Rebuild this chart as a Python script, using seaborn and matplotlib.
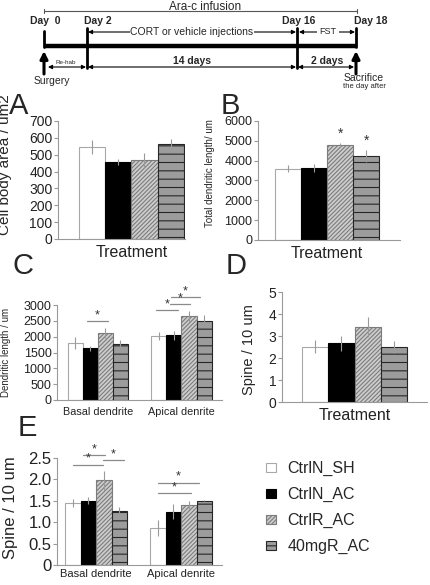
import numpy as np
import pandas as pd
import matplotlib
matplotlib.use('Agg')
import matplotlib.pyplot as plt
import seaborn as sns
from matplotlib.patches import Patch
from matplotlib.container import BarContainer

# Groups and categories
groups = ['CtrlN_SH', 'CtrlN_AC', 'CtrlR_AC', '40mgR_AC']
dendrites = ['Basal dendrite', 'Apical denrite']

# A: cell body area (um2)
cell_area = [548, 455, 468, 562]
cell_area_sem = [42, 18, 45, 30]

# B: total dendritic length (um)
total_len = [3600, 3650, 4780, 4250]
total_len_sem = [170, 200, 110, 300]

# C: dendritic length per dendrite type (um)
dend_len_basal = [1800, 1630, 2110, 1770]
dend_len_basal_sem = [200, 90, 150, 110]
dend_len_apical = [2030, 2040, 2640, 2480]
dend_len_apical_sem = [130, 130, 170, 190]

# D: spines / 10 um, all
spine_total = [2.52, 2.67, 3.42, 2.5]
spine_total_sem = [0.28, 0.35, 0.45, 0.27]

# E: spines / 10 um per dendrite type
spine_basal = [1.45, 1.5, 1.98, 1.27]
spine_basal_sem = [0.1, 0.08, 0.22, 0.08]
spine_apical = [0.86, 1.25, 1.4, 1.5]
spine_apical_sem = [0.18, 0.18, 0.09, 0.01]

sns.set_style('white')
plt.rcParams['font.family'] = ['Liberation Sans', 'DejaVu Sans']
plt.rcParams['hatch.linewidth'] = 0.8

W, H = 430, 585
fig = plt.figure(figsize=(W / 100, H / 100), dpi=100)


def px_axes(l, t, r, b):
    return fig.add_axes([l / W, 1 - b / H, (r - l) / W, (b - t) / H])


def ftext(x, y, s, **kw):
    fig.text(x / W, 1 - y / H, s, **kw)


bar_styles = {
    'CtrlN_SH': dict(facecolor='white', edgecolor='#a8a8a8', hatch=None),
    'CtrlN_AC': dict(facecolor='black', edgecolor='black', hatch=None),
    'CtrlR_AC': dict(facecolor='#cdcdcd', edgecolor='#7c7c7c', hatch='////////'),
    '40mgR_AC': dict(facecolor='#9c9c9c', edgecolor='#262626', hatch='--'),
}
palette = {g: bar_styles[g]['facecolor'] for g in groups}


def long_df(cats, vals, sems):
    rows = []
    for c, v, s in zip(cats, vals, sems):
        for g, vv, ss in zip(groups, v, s):
            rows.append({'Cat': c, 'Group': g, 'Value': vv, 'SEM': ss})
    return pd.DataFrame(rows)


def bars_of(ax):
    return [c for c in ax.containers if isinstance(c, BarContainer)]


def bar_panel(ax, df, order, width, xlim, ylim, yticks, tick_fs, cat_fs, cat_pad, yticklabels=None):
    sns.barplot(data=df, x='Cat', y='Value', hue='Group', order=order, hue_order=groups,
                palette=palette, width=width, errorbar=None, legend=False, ax=ax, saturation=1)
    lookup = {(r.Cat, r.Group): r.SEM for r in df.itertuples()}
    for g, cont in zip(groups, bars_of(ax)):
        st = bar_styles[g]
        xs, ys, es = [], [], []
        for p in cont:
            p.set_facecolor(st['facecolor'])
            p.set_edgecolor(st['edgecolor'])
            p.set_linewidth(0.8)
            if st['hatch']:
                p.set_hatch(st['hatch'])
            xc = p.get_x() + p.get_width() / 2
            xs.append(xc)
            ys.append(p.get_height())
            es.append(lookup[(order[int(round(xc))], g)])
        ax.errorbar(xs, ys, yerr=es, fmt='none', ecolor='#9a9a9a', elinewidth=0.8, capsize=0, zorder=5)
    ax.set_xlim(*xlim)
    ax.set_ylim(*ylim)
    ax.set_yticks(yticks)
    if yticklabels is not None:
        ax.set_yticklabels(yticklabels)
    sns.despine(ax=ax)
    for s in ['left', 'bottom']:
        ax.spines[s].set_color('#9a9a9a')
        ax.spines[s].set_linewidth(0.8)
    ax.tick_params(axis='y', left=True, length=3, width=0.8, color='#9a9a9a',
                   labelsize=tick_fs, labelcolor='#222222', pad=1)
    ax.tick_params(axis='x', length=0, labelsize=cat_fs, labelcolor='#222222', pad=cat_pad)
    ax.set_xlabel('')
    ax.set_ylabel('')


def sig(ax, x0, x1, y, fs=9):
    ax.plot([x0, x1], [y, y], color='#8a8a8a', lw=0.9, clip_on=False)
    ax.text((x0 + x1) / 2, y, '*', ha='center', va='bottom', fontsize=fs,
            color='#333333', clip_on=False)


# ---------- timeline ----------
axt = fig.add_axes([0, 1 - 90 / H, 1, 90 / H])
axt.set_xlim(0, W)
axt.set_ylim(90, 0)
axt.axis('off')
axt.plot([44, 356], [46, 46], color='black', lw=3.2, solid_capstyle='butt')
axt.plot([44, 44], [31, 47], color='black', lw=2)
axt.plot([87, 87], [28, 68], color='black', lw=2)
axt.plot([297, 297], [28, 68], color='black', lw=2)
axt.plot([356, 356], [28, 47], color='black', lw=2)
axt.plot([44, 357], [11, 11], color='#555555', lw=0.8)
axt.plot([44, 44], [9, 13], color='#555555', lw=0.8)
axt.plot([357, 357], [9, 13], color='#555555', lw=0.8)
axt.text(205, 7, 'Ara-c infusion', ha='center', va='center', fontsize=8.5)
for lab, x, off in [('Day  0', 44, -14), ('Day 2', 87, -3), ('Day 16', 297, -15), ('Day 18', 356, -2)]:
    axt.text(x + off, 21, lab, ha='left', va='center', fontsize=7.5, fontweight='bold')
arr = dict(arrowstyle='<|-|>', color='black', lw=0.8, mutation_scale=6, shrinkA=0, shrinkB=0)
axt.annotate('', xy=(88, 32), xytext=(296, 32), arrowprops=arr)
axt.text(192, 32, 'CORT or vehicle injections', ha='center', va='center', fontsize=7.5,
         bbox=dict(facecolor='white', edgecolor='none', pad=0.5))
axt.annotate('', xy=(299, 32), xytext=(355, 32), arrowprops=arr)
axt.text(328, 31, 'FST', ha='center', va='center', fontsize=6.5,
         bbox=dict(facecolor='white', edgecolor='none', pad=1.5))
axt.annotate('', xy=(48, 67), xytext=(86, 67), arrowprops=arr)
axt.annotate('', xy=(88, 67), xytext=(296, 67), arrowprops=arr)
axt.annotate('', xy=(298, 67), xytext=(354, 67), arrowprops=arr)
axt.text(66, 62, 'Re-hab', ha='center', va='center', fontsize=4.5)
axt.text(192, 61, '14 days', ha='center', va='center', fontsize=7.5, fontweight='bold')
axt.text(327, 61, '2 days', ha='center', va='center', fontsize=7.5, fontweight='bold')
bigarr = dict(arrowstyle='-|>', color='black', lw=2.2, mutation_scale=11, shrinkA=0, shrinkB=0)
axt.annotate('', xy=(44, 51), xytext=(44, 74), arrowprops=bigarr)
axt.annotate('', xy=(356, 51), xytext=(356, 74), arrowprops=bigarr)
axt.text(52, 81, 'Surgery', ha='center', va='center', fontsize=7.5)
axt.text(364, 78, 'Sacrifice', ha='center', va='center', fontsize=7.5)
axt.text(364, 87, 'the day after', ha='center', va='center', fontsize=5.5)

# ---------- A ----------
axA = px_axes(58, 121, 185, 239)
dfA = long_df(['Treatment'], [cell_area], [cell_area_sem])
bar_panel(axA, dfA, ['Treatment'], 0.8, (-0.56, 0.41), (0, 700), range(0, 701, 100), 10, 11.5, 4)
ftext(12, 165, 'Cell body area / um2', rotation=90, ha='right', va='center', fontsize=11)

# ---------- B ----------
axB = px_axes(258, 121, 400, 240)
dfB = long_df(['Treatment'], [total_len], [total_len_sem])
bar_panel(axB, dfB, ['Treatment'], 0.8, (-0.53, 0.56), (0, 6000), range(0, 6001, 1000), 9, 11.5, 4)
for i in (2, 3):
    p = bars_of(axB)[i][0]
    axB.text(p.get_x() + p.get_width() / 2, total_len[i] + total_len_sem[i] + 120, '*',
             ha='center', va='bottom', fontsize=10, color='#333')
ftext(215, 173, 'Total dendritic length/ um', rotation=90, ha='right', va='center', fontsize=7)

# ---------- C ----------
axC = px_axes(57, 305, 222, 400)
dfC = long_df(dendrites, [dend_len_basal, dend_len_apical], [dend_len_basal_sem, dend_len_apical_sem])
bar_panel(axC, dfC, dendrites, 0.72, (-0.49, 1.485), (0, 3000), range(0, 3001, 500), 9, 7.8, 5)
sig(axC, -0.13, 0.12, 2490)
sig(axC, 0.69, 0.96, 2840)
sig(axC, 0.86, 1.10, 3030)
sig(axC, 0.87, 1.22, 3250)
ftext(11, 352, 'Dendritic length / um', rotation=90, ha='right', va='center', fontsize=7)

# ---------- D ----------
axD = px_axes(282, 292, 427, 402)
dfD = long_df(['Treatment'], [spine_total], [spine_total_sem])
bar_panel(axD, dfD, ['Treatment'], 0.8, (-0.553, 0.553), (0, 5), range(0, 6), 10, 11.5, 4)
ftext(256, 350, 'Spine / 10 um', rotation=90, ha='right', va='center', fontsize=10.5)

# ---------- E ----------
axE = px_axes(57, 458, 222, 565)
dfE = long_df(dendrites, [spine_basal, spine_apical], [spine_basal_sem, spine_apical_sem])
bar_panel(axE, dfE, dendrites, 0.73, (-0.46, 1.48), (0, 2.5), np.arange(0, 2.51, 0.5), 12, 8, 3,
          yticklabels=['0', '0.5', '1.0', '1.5', '2.0', '2.5'])
sig(axE, -0.27, 0.08, 2.34)
sig(axE, -0.15, 0.11, 2.57)
sig(axE, 0.08, 0.33, 2.45)
sig(axE, 0.73, 1.11, 1.68)
sig(axE, 0.73, 1.21, 1.92)
ftext(18, 508, 'Spine / 10 um', rotation=90, ha='right', va='center', fontsize=12)

# ---------- panel letters ----------
for letter, x, y in [('A', 9, 114), ('B', 221, 114), ('C', 13, 274), ('D', 226, 274), ('E', 18, 436)]:
    ftext(x, y, letter, ha='left', va='baseline', fontsize=21)

# ---------- legend ----------
handles = [Patch(facecolor=bar_styles[g]['facecolor'], edgecolor=bar_styles[g]['edgecolor'],
                 hatch=bar_styles[g]['hatch'], linewidth=0.8) for g in groups]
fig.legend(handles, groups, loc='upper left', bbox_to_anchor=(266 / W, 1 - 461 / H),
           frameon=False, fontsize=11.5, handlelength=0.6, handleheight=0.45,
           handletextpad=0.75, labelspacing=0.68, borderaxespad=0, borderpad=0)

fig.savefig('out.png', dpi=100)
